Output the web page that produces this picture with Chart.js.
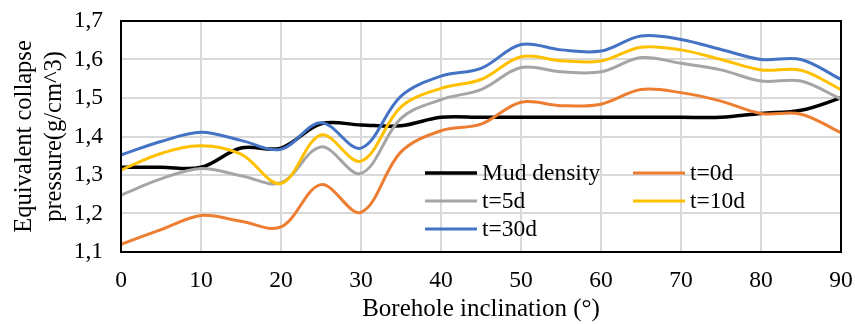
<!DOCTYPE html>
<html>
<head>
<meta charset="utf-8">
<script src="https://cdn.jsdelivr.net/npm/chart.js@4.4.1/dist/chart.umd.min.js"></script>
<style>
  html, body { margin: 0; padding: 0; background: #fff; }
  #wrap { width: 855px; height: 324px; }
</style>
</head>
<body>
<div id="wrap"><canvas id="myChart"></canvas></div>
<script>
// borehole inclination, degrees
var angles = [0, 5, 10, 15, 20, 25, 30, 35, 40, 45, 50, 55, 60, 65, 70, 75, 80, 85, 90];

var mudDensity = [1.32, 1.32, 1.32, 1.37, 1.37, 1.433, 1.43, 1.428, 1.45, 1.45, 1.45, 1.45, 1.45, 1.45, 1.45, 1.45, 1.46, 1.468, 1.50];
var t0d  = [1.12, 1.158, 1.195, 1.18, 1.165, 1.275, 1.203, 1.36, 1.415, 1.432, 1.489, 1.48, 1.484, 1.522, 1.514, 1.492, 1.46, 1.458, 1.41];
var t5d  = [1.248, 1.29, 1.317, 1.298, 1.28, 1.373, 1.304, 1.447, 1.496, 1.522, 1.579, 1.568, 1.568, 1.605, 1.59, 1.573, 1.544, 1.544, 1.497];
var t10d = [1.313, 1.356, 1.376, 1.354, 1.278, 1.404, 1.336, 1.477, 1.525, 1.548, 1.607, 1.597, 1.596, 1.632, 1.625, 1.60, 1.573, 1.572, 1.522];
var t30d = [1.352, 1.387, 1.411, 1.39, 1.367, 1.436, 1.37, 1.505, 1.557, 1.577, 1.639, 1.625, 1.622, 1.661, 1.652, 1.626, 1.60, 1.60, 1.548];

var seriesNames = ['Mud density', 't=0d', 't=5d', 't=10d', 't=30d'];
var seriesColors = ['#000000', '#ED7D31', '#A5A5A5', '#FFC000', '#4472C4'];
var seriesData = [mudDensity, t0d, t5d, t10d, t30d];

var serif = '"Liberation Serif", "Times New Roman", serif';

function toPoints(values) {
  return values.map(function(v, i) { return { x: angles[i], y: v }; });
}

var datasets = seriesData.map(function(values, i) {
  return {
    label: seriesNames[i],
    data: toPoints(values),
    borderColor: seriesColors[i],
    backgroundColor: seriesColors[i],
    borderWidth: i === 0 ? 3.5 : 3,
    pointRadius: 0,
    tension: 0.35,
    fill: false,
    order: 5 - i
  };
});

// frame around the plot + legend inside the plot area
var framePlugin = {
  id: 'frameAndLegend',
  afterDatasetsDraw: function(chart) {
    var ctx = chart.ctx;
    var a = chart.chartArea;
    ctx.save();
    ctx.strokeStyle = '#000';
    ctx.lineWidth = 2;
    ctx.strokeRect(a.left, a.top, a.right - a.left, a.bottom - a.top);

    var cols = [a.left + 304, a.left + 512];
    var rows = [a.top + 152, a.top + 180, a.top + 208];
    ctx.font = '23.5px ' + serif;
    ctx.textBaseline = 'middle';
    ctx.fillStyle = '#000';
    chart.data.datasets.forEach(function(ds, i) {
      var cx = cols[i % 2];
      var cy = rows[Math.floor(i / 2)];
      ctx.strokeStyle = ds.borderColor;
      ctx.lineWidth = ds.borderWidth;
      ctx.beginPath();
      ctx.moveTo(cx, cy);
      ctx.lineTo(cx + 52, cy);
      ctx.stroke();
      ctx.fillText(ds.label, cx + 57, cy + 1);
    });
    ctx.restore();
  }
};

var config = {
  type: 'line',
  data: { datasets: datasets },
  options: {
    responsive: true,
    maintainAspectRatio: false,
    animation: false,
    layout: { padding: { top: 21, right: 14, left: 0, bottom: 0 } },
    plugins: {
      legend: { display: false },
      tooltip: { enabled: false }
    },
    scales: {
      x: {
        type: 'linear',
        min: 0,
        max: 90,
        ticks: { stepSize: 10, color: '#000', padding: 15, font: { family: serif, size: 23.5 } },
        grid: { color: '#d9d9d9', lineWidth: 2, drawTicks: false },
        border: { display: false },
        title: {
          display: true,
          text: 'Borehole inclination (°)',
          color: '#000',
          font: { family: serif, size: 25 },
          padding: { top: 0, bottom: 0 }
        },
        afterFit: function(scale) {
          scale.height = 72;
          scale.paddingLeft = 0;
          scale.paddingRight = 0;
        }
      },
      y: {
        min: 1.1,
        max: 1.7,
        ticks: {
          stepSize: 0.1,
          color: '#000',
          padding: 18,
          font: { family: serif, size: 23.5 },
          callback: function(v) { return v.toFixed(1).replace('.', ','); }
        },
        grid: { color: '#d9d9d9', lineWidth: 2, drawTicks: false },
        border: { display: false },
        title: {
          display: true,
          text: ['Equivalent collapse', 'pressure(g/cm^3)'],
          color: '#000',
          font: { family: serif, size: 24.5, lineHeight: 1.22 },
          padding: { top: 10, bottom: 0 }
        },
        afterFit: function(scale) {
          scale.width = 121;
          scale.paddingTop = 0;
          scale.paddingBottom = 0;
        }
      }
    }
  },
  plugins: [framePlugin]
};

var ctx = document.getElementById('myChart').getContext('2d');
var myChart = new Chart(ctx, config);
</script>
</body>
</html>
